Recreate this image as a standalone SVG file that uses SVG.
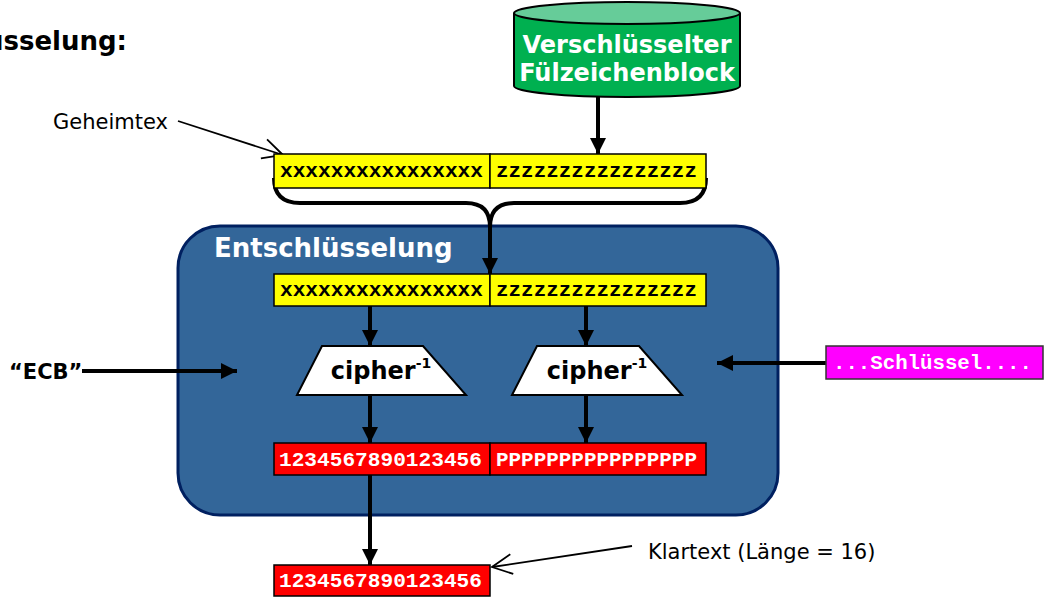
<svg xmlns="http://www.w3.org/2000/svg" width="1049" height="597" viewBox="0 0 1049 597">
<style>
.sans{font-family:"DejaVu Sans","Liberation Sans",sans-serif}
.b{font-weight:bold}
.mono{font-family:"Liberation Mono","DejaVu Sans Mono",monospace;font-weight:bold;font-size:21px}
.ycell{fill:#FFFF00;stroke:#000;stroke-width:1.5}
.rcell{fill:#FF0000;stroke:#000;stroke-width:1.5}
.conn{stroke:#000;stroke-width:4;fill:none}
.thin{stroke:#000;stroke-width:1.8;fill:none}
.trap{fill:#fff;stroke:#000;stroke-width:2}
</style>
<defs>
<marker id="ah" markerUnits="userSpaceOnUse" markerWidth="18" markerHeight="18" viewBox="0 0 18 18" refX="16" refY="9" orient="auto">
<path d="M0,1 L16,9 L0,17 Z" fill="#000"/>
</marker>
<marker id="oh" markerUnits="userSpaceOnUse" markerWidth="24" markerHeight="24" viewBox="0 0 24 24" refX="22" refY="12" orient="auto">
<path d="M2,2 L22,12 L2,22" fill="none" stroke="#000" stroke-width="1.8"/>
</marker>
</defs>

<text class="sans b" x="127" y="50" font-size="26" text-anchor="end">Entschlüsselung:</text>

<g id="entschluesselung">
<rect x="178" y="226" width="600" height="289" rx="42" ry="42" fill="#336699" stroke="#002060" stroke-width="3"/>
<text class="sans b" x="214" y="257" font-size="26" fill="#fff">Entschlüsselung</text>
</g>

<g id="fuellblock">
<path d="M514,13 L514,86 A113,11 0 0 0 740,86 L740,13" fill="#00B050" stroke="#000" stroke-width="2"/>
<ellipse cx="627" cy="13" rx="113" ry="11" fill="#66CC99" stroke="#000" stroke-width="2"/>
<text class="sans b" x="627" y="53" font-size="24" fill="#fff" text-anchor="middle">Verschlüsselter</text>
<text class="sans b" x="627" y="81" font-size="24" fill="#fff" text-anchor="middle">Fülzeichenblock</text>
</g>

<g id="connectors">
<path class="conn" d="M274,178 Q274,203 300,203 L466,203 Q490,203 490,227"/>
<path class="conn" d="M706,178 Q706,203 680,203 L514,203 Q490,203 490,227"/>
<line class="conn" x1="490" y1="225" x2="490" y2="274" marker-end="url(#ah)"/>
<line class="conn" x1="598" y1="97" x2="598" y2="154" marker-end="url(#ah)"/>
<line class="conn" x1="370" y1="306" x2="370" y2="346" marker-end="url(#ah)"/>
<line class="conn" x1="586" y1="306" x2="586" y2="346" marker-end="url(#ah)"/>
<line class="conn" x1="370" y1="395" x2="370" y2="443" marker-end="url(#ah)"/>
<line class="conn" x1="586" y1="395" x2="586" y2="443" marker-end="url(#ah)"/>
<line class="conn" x1="370" y1="475" x2="370" y2="565" marker-end="url(#ah)"/>
<line class="conn" x1="82" y1="371" x2="237" y2="371" marker-end="url(#ah)"/>
<line class="conn" x1="826" y1="363" x2="717" y2="363" marker-end="url(#ah)"/>
<line class="thin" x1="178" y1="121" x2="283" y2="155" marker-end="url(#oh)"/>
<line class="thin" x1="632" y1="546" x2="492" y2="567" marker-end="url(#oh)"/>
</g>

<g id="geheimtext">
<rect class="ycell" x="274" y="154" width="216" height="34"/>
<rect class="ycell" x="490" y="154" width="216" height="34"/>
<text class="mono" x="280" y="177" textLength="203" lengthAdjust="spacingAndGlyphs">xxxxxxxxxxxxxxxx</text>
<text class="mono" x="496" y="177" textLength="201" lengthAdjust="spacingAndGlyphs">zzzzzzzzzzzzzzzz</text>
</g>

<g id="geheimtext-intern">
<rect class="ycell" x="274" y="274" width="216" height="32"/>
<rect class="ycell" x="490" y="274" width="216" height="32"/>
<text class="mono" x="280" y="296" textLength="203" lengthAdjust="spacingAndGlyphs">xxxxxxxxxxxxxxxx</text>
<text class="mono" x="496" y="296" textLength="201" lengthAdjust="spacingAndGlyphs">zzzzzzzzzzzzzzzz</text>
</g>

<g id="cipher1">
<polygon class="trap" points="322,346 423,346 466,395 297,395"/>
<text class="sans b" x="381" y="379" font-size="24" text-anchor="middle">cipher<tspan font-size="14" dy="-11">-1</tspan></text>
</g>
<g id="cipher2">
<polygon class="trap" points="537,346 639,346 682,395 512,395"/>
<text class="sans b" x="597" y="379" font-size="24" text-anchor="middle">cipher<tspan font-size="14" dy="-11">-1</tspan></text>
</g>

<g id="ergebnis">
<rect class="rcell" x="274" y="443" width="216" height="32"/>
<rect class="rcell" x="490" y="443" width="216" height="32"/>
<text class="mono" x="279" y="466" fill="#fff" textLength="203" lengthAdjust="spacingAndGlyphs">1234567890123456</text>
<text class="mono" x="496" y="466" fill="#fff" textLength="201" lengthAdjust="spacingAndGlyphs">PPPPPPPPPPPPPPPP</text>
</g>

<g id="klartext">
<rect class="rcell" x="274" y="565" width="216" height="31"/>
<text class="mono" x="279" y="587" fill="#fff" textLength="203" lengthAdjust="spacingAndGlyphs">1234567890123456</text>
</g>

<g id="schluessel">
<rect x="826" y="346" width="217" height="33" fill="#FF00FF" stroke="#333" stroke-width="1.5"/>
<text class="mono" x="833" y="369" fill="#fff" textLength="199" lengthAdjust="spacingAndGlyphs">...Schlüssel....</text>
</g>

<g id="labels">
<text class="sans" x="53" y="129" font-size="21">Geheimtex</text>
<text class="sans" x="648" y="559" font-size="21">Klartext (Länge = 16)</text>
<text class="sans b" x="9" y="379" font-size="21">“ECB”</text>
</g>
</svg>
